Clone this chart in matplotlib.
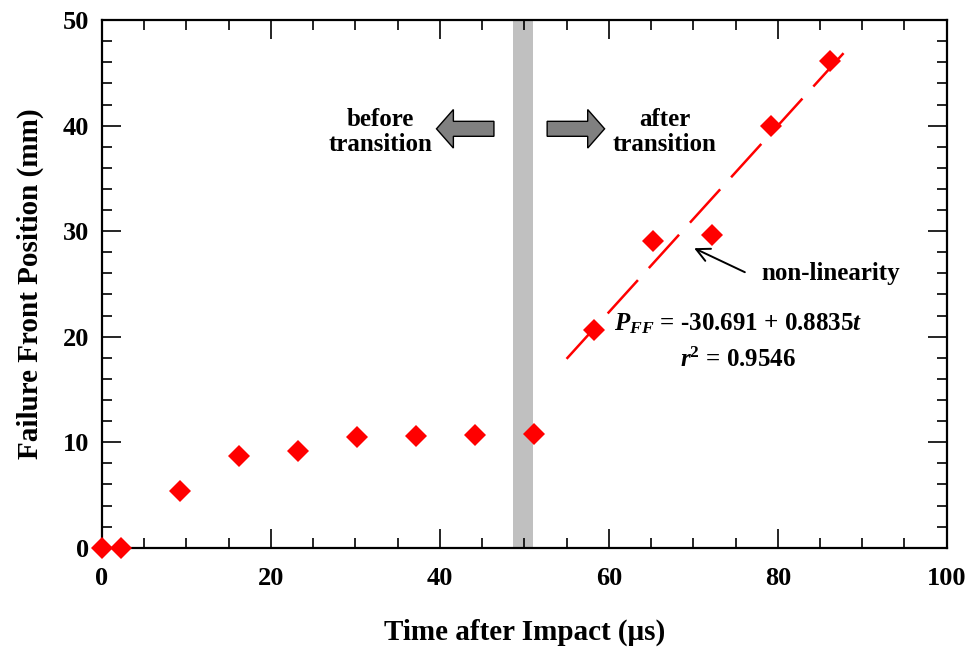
import numpy as np
import matplotlib
matplotlib.use("Agg")
import matplotlib.pyplot as plt
from matplotlib.patches import FancyArrow
from matplotlib.ticker import MultipleLocator

plt.rcParams['font.family'] = ['Liberation Serif', 'DejaVu Serif']
plt.rcParams['font.weight'] = 'bold'
plt.rcParams['mathtext.fontset'] = 'custom'
plt.rcParams['mathtext.rm'] = 'Liberation Serif:bold'
plt.rcParams['mathtext.bf'] = 'Liberation Serif:bold'
plt.rcParams['mathtext.it'] = 'Liberation Serif:italic:bold'
plt.rcParams['mathtext.bfit'] = 'Liberation Serif:italic:bold'

# measured failure front position
time_us = [0.0, 2.2, 9.2, 16.2, 23.2, 30.2, 37.2, 44.2, 51.2, 58.2, 65.2, 72.2, 79.2, 86.2]
position_mm = [0.0, 0.0, 5.4, 8.7, 9.2, 10.5, 10.6, 10.7, 10.8, 20.6, 29.1, 29.6, 40.0, 46.1]

# linear fit after transition
fit_intercept = -30.691
fit_slope = 0.8835
fit_range = [55.0, 88.3]

transition_band = [48.7, 51.0]

fig = plt.figure(figsize=(9.71, 6.49), dpi=100)
ax = fig.add_axes([0.105, 0.156, 0.870, 0.813])

ax.axvspan(transition_band[0], transition_band[1], color='#c0c0c0', lw=0, zorder=1)

tf = np.array(fit_range)
ax.plot(tf, fit_intercept + fit_slope * tf, color='red', lw=1.8,
        dashes=(18, 6.5), zorder=2)

ax.plot(time_us, position_mm, 'D', color='red', ms=11, mew=0,
        clip_on=False, zorder=5)

# transition arrows
ax.add_patch(FancyArrow(46.4, 39.7, -6.8, 0, width=1.42, head_width=3.65,
                        head_length=2.0, length_includes_head=True,
                        fc='#808080', ec='black', lw=1.0, zorder=3))
ax.add_patch(FancyArrow(52.7, 39.7, 6.8, 0, width=1.42, head_width=3.65,
                        head_length=2.0, length_includes_head=True,
                        fc='#808080', ec='black', lw=1.0, zorder=3))
ax.text(33.0, 39.4, 'before\ntransition', ha='center', va='center',
        fontsize=18, fontweight='bold', linespacing=1.15)
ax.text(66.6, 39.4, 'after\ntransition', ha='center', va='center',
        fontsize=18, fontweight='bold', linespacing=1.15)

ax.annotate('', xy=(69.8, 28.5), xytext=(76.4, 26.0),
            arrowprops=dict(arrowstyle='->', color='black', lw=1.4,
                            mutation_scale=24))
ax.text(78.1, 25.4, 'non-linearity', ha='left', va='baseline',
        fontsize=18, fontweight='bold')

ax.text(75.3, 20.6, r'$\mathbfit{P}_{\mathbfit{FF}}$ = -30.691 + 0.8835$\mathbfit{t}$',
        ha='center', va='baseline', fontsize=18, fontweight='bold')
ax.text(75.3, 17.1, r'$\mathbfit{r}^{\mathbf{2}}$ = 0.9546',
        ha='center', va='baseline', fontsize=18, fontweight='bold')

ax.set_xlim(0, 100)
ax.set_ylim(0, 50)
ax.xaxis.set_major_locator(MultipleLocator(20))
ax.xaxis.set_minor_locator(MultipleLocator(5))
ax.yaxis.set_major_locator(MultipleLocator(10))
ax.yaxis.set_minor_locator(MultipleLocator(2))
ax.tick_params(which='both', direction='in', top=True, right=True, width=1.2)
ax.tick_params(which='major', length=14, labelsize=19)
ax.tick_params(which='minor', length=7)
ax.tick_params(axis='x', which='major', pad=14)
ax.tick_params(axis='y', which='major', pad=9)
for lab in ax.get_xticklabels() + ax.get_yticklabels():
    lab.set_fontweight('bold')
for sp in ax.spines.values():
    sp.set_linewidth(1.6)

ax.set_xlabel('Time after Impact (\u03bcs)', fontsize=21, fontweight='bold')
ax.set_ylabel('Failure Front Position (mm)', fontsize=21, fontweight='bold')
ax.xaxis.set_label_coords(0.5, -0.161)
ax.xaxis.label.set_va('center')
ax.yaxis.set_label_coords(-0.085, 0.5)
ax.yaxis.label.set_va('center')

fig.savefig('out.png', dpi=100)
